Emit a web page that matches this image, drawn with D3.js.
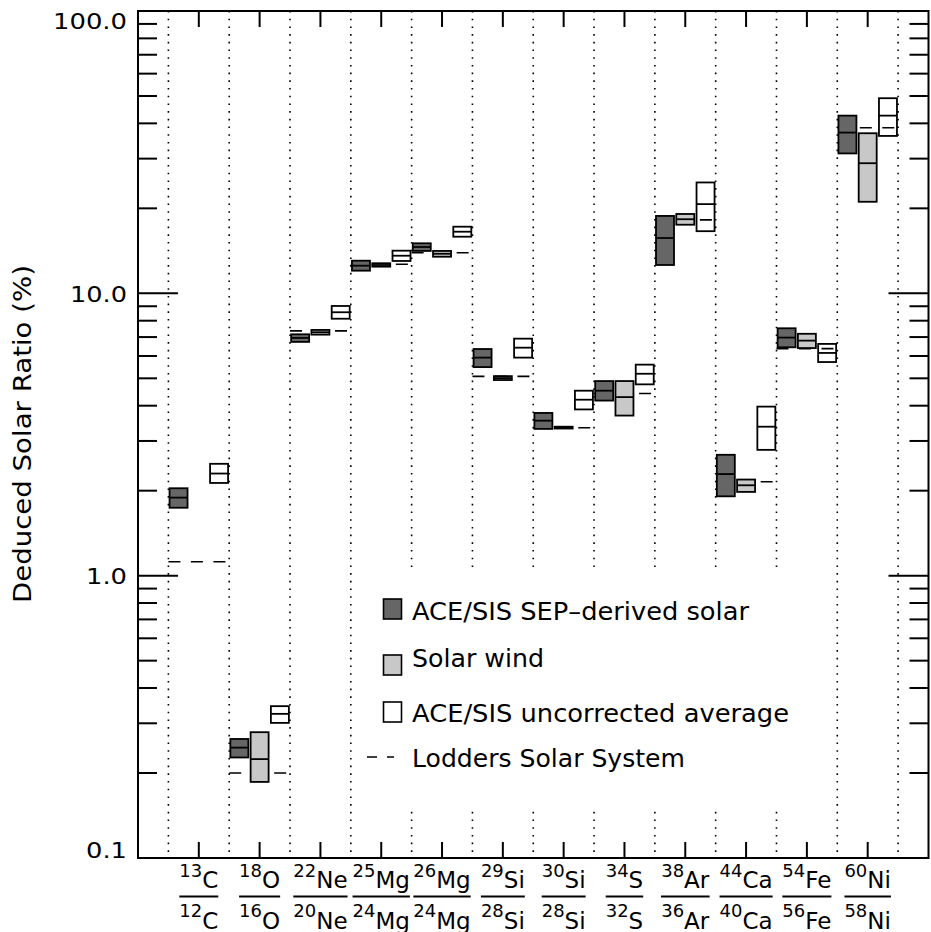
<!DOCTYPE html>
<html>
<head>
<meta charset="utf-8">
<script src="https://cdn.jsdelivr.net/npm/d3@7"></script>
<style>
body { margin: 0; background: #fff; }
svg { display: block; }
text { font-family: "DejaVu Sans", sans-serif; fill: #000; }
</style>
</head>
<body>
<svg id="svg_chart"></svg>
<script>
// isotope ratio labels (numerator / denominator)
var num_mass = ["13", "18", "22", "25", "26", "29", "30", "34", "38", "44", "54", "60"];
var num_el   = ["C",  "O",  "Ne", "Mg", "Mg", "Si", "Si", "S",  "Ar", "Ca", "Fe", "Ni"];
var den_mass = ["12", "16", "20", "24", "24", "28", "28", "32", "36", "40", "56", "58"];
var den_el   = ["C",  "O",  "Ne", "Mg", "Mg", "Si", "Si", "S",  "Ar", "Ca", "Fe", "Ni"];

// ACE/SIS SEP-derived solar (%)
var sep_low  = [1.74, 0.227, 6.73, 12.03, 14.13, 5.48, 3.31, 4.17, 12.6, 1.91, 6.44, 31.3];
var sep_mid  = [1.89, 0.246, 6.95, 12.53, 14.59, 5.92, 3.54, 4.52, 15.7, 2.29, 6.97, 37.1];
var sep_high = [2.04, 0.264, 7.16, 13.05, 15.04, 6.35, 3.77, 4.89, 18.8, 2.68, 7.52, 42.6];

// solar wind (%), none for carbon
var sw_low  = [null, 0.186, 7.14, 12.43, 13.48, 4.93, 3.32, 3.69, 17.5, 1.98, 6.40, 21.1];
var sw_mid  = [null, 0.224, 7.28, 12.60, 13.81, 5.01, 3.34, 4.29, 18.3, 2.09, 6.80, 28.9];
var sw_high = [null, 0.279, 7.42, 12.78, 14.13, 5.09, 3.37, 4.89, 19.1, 2.19, 7.19, 36.9];

// ACE/SIS uncorrected average (%)
var unc_low  = [2.13, 0.301, 8.13, 13.02, 15.87, 5.92, 3.88, 4.76, 16.6, 2.79, 5.71, 36.1];
var unc_mid  = [2.30, 0.324, 8.57, 13.59, 16.53, 6.42, 4.20, 5.19, 20.7, 3.37, 6.15, 42.6];
var unc_high = [2.49, 0.345, 9.02, 14.16, 17.22, 6.91, 4.52, 5.59, 24.7, 3.97, 6.62, 49.1];

// Lodders solar system (%)
var lodders = [1.12, 0.200, 7.36, 12.67, 13.93, 5.08, 3.34, 4.42, 18.2, 2.15, 6.37, 38.6];

var y_tick_major = [0.1, 1, 10, 100];
var y_tick_labels = ["0.1", "1.0", "10.0", "100.0"];

var width = 931, height = 932;
var plot = {left: 138, right: 928.5, top: 11, bottom: 858};

var svg = d3.select("svg#svg_chart")
    .attr("width", width)
    .attr("height", height);

var x = d3.scaleLinear().domain([0, 13]).range([plot.left, plot.right]);
var y = d3.scaleLog().domain([0.1, 100]).range([plot.bottom, plot.top]);
var unit = x(1) - x(0);

// minor ticks 2..9 of every decade
var y_tick_minor = [];
y_tick_major.slice(0, 3).forEach(function(d) {
	for (var k = 2; k <= 9; k++) y_tick_minor.push(d * k);
});

// the vector font in the original is wider than DejaVu: stretch to its width
function fn_fit(sel, w) {
	return sel.attr("textLength", w).attr("lengthAdjust", "spacingAndGlyphs");
}

// ====================================================
// dotted separators between the ratios
var bounds = d3.range(13).map(function(i) { return i + 0.5; });
svg.append("g")
    .selectAll("line")
    .data(bounds)
    .enter().append("line")
    .attr("x1", function(d) { return x(d); })
    .attr("x2", function(d) { return x(d); })
    .attr("y1", plot.top)
    .attr("y2", plot.bottom)
    .attr("stroke", "#000")
    .attr("stroke-width", 1.6)
    .attr("stroke-dasharray", "1.6,6.1");

// the legend blanks the separators behind it
svg.append("rect")
    .attr("x", 356).attr("y", 573)
    .attr("width", 474).attr("height", 235)
    .attr("fill", "#fff");

// ====================================================
// Lodders dashed lines, across the whole band
svg.append("g")
    .selectAll("line")
    .data(lodders)
    .enter().append("line")
    .attr("x1", function(d, i) { return x(i + 0.5); })
    .attr("x2", function(d, i) { return x(i + 1.5); })
    .attr("y1", function(d) { return y(d); })
    .attr("y2", function(d) { return y(d); })
    .attr("stroke", "#000")
    .attr("stroke-width", 1.6)
    .attr("stroke-dasharray", "12,10.5");

// ====================================================
// boxes: low-high range with a line at the central value
function fn_boxes(lo, mid, hi, offset, fill) {
	var idx = d3.range(lo.length).filter(function(i) { return lo[i] != null; });
	var bw = 0.296 * unit;
	var g = svg.append("g");
	g.selectAll("rect")
	    .data(idx)
	    .enter().append("rect")
	    .attr("x", function(i) { return x(i + 1 + offset) - bw / 2; })
	    .attr("width", bw)
	    .attr("y", function(i) { return y(hi[i]); })
	    .attr("height", function(i) { return y(lo[i]) - y(hi[i]); })
	    .attr("fill", fill)
	    .attr("stroke", "#000")
	    .attr("stroke-width", 1.8);
	g.selectAll("line")
	    .data(idx)
	    .enter().append("line")
	    .attr("x1", function(i) { return x(i + 1 + offset) - bw / 2; })
	    .attr("x2", function(i) { return x(i + 1 + offset) + bw / 2; })
	    .attr("y1", function(i) { return y(mid[i]); })
	    .attr("y2", function(i) { return y(mid[i]); })
	    .attr("stroke", "#000")
	    .attr("stroke-width", 1.8);
}

fn_boxes(sep_low, sep_mid, sep_high, -1 / 3, "#666666");
fn_boxes(sw_low, sw_mid, sw_high, 0, "#c8c8c8");
fn_boxes(unc_low, unc_mid, unc_high, 1 / 3, "none");

// ====================================================
// frame and ticks
svg.append("rect")
    .attr("x", plot.left).attr("y", plot.top)
    .attr("width", plot.right - plot.left)
    .attr("height", plot.bottom - plot.top)
    .attr("fill", "none")
    .attr("stroke", "#000")
    .attr("stroke-width", 2);

var ticks = svg.append("g").attr("stroke", "#000").attr("stroke-width", 2);

function fn_y_ticks(vals, len) {
	vals.forEach(function(v) {
		ticks.append("line")
		    .attr("x1", plot.left).attr("x2", plot.left + len)
		    .attr("y1", y(v)).attr("y2", y(v));
		ticks.append("line")
		    .attr("x1", plot.right).attr("x2", plot.right - len)
		    .attr("y1", y(v)).attr("y2", y(v));
	});
}
fn_y_ticks(y_tick_minor, 19);
fn_y_ticks(y_tick_major, 40);

d3.range(1, 13).forEach(function(i) {
	ticks.append("line")
	    .attr("x1", x(i)).attr("x2", x(i))
	    .attr("y1", plot.top).attr("y2", plot.top + 16);
	ticks.append("line")
	    .attr("x1", x(i)).attr("x2", x(i))
	    .attr("y1", plot.bottom).attr("y2", plot.bottom - 16);
});

// y tick labels, end labels pulled inside the frame like IDL does
var tick_w = [41, 41, 57, 74];
svg.append("g")
    .selectAll("text")
    .data(y_tick_major)
    .enter().append("text")
    .attr("x", 127)
    .attr("y", function(d) {
    	return Math.min(Math.max(y(d) + 8.5, plot.top + 18), plot.bottom);
    })
    .attr("text-anchor", "end")
    .attr("font-size", 22)
    .attr("textLength", function(d, i) { return tick_w[i]; })
    .attr("lengthAdjust", "spacingAndGlyphs")
    .text(function(d, i) { return y_tick_labels[i]; });

fn_fit(svg.append("text")
    .attr("transform", "translate(31,434) rotate(-90)")
    .attr("text-anchor", "middle")
    .attr("font-size", 24)
    .text("Deduced Solar Ratio (%)"), 338);

// ====================================================
// ratio labels under the axis
d3.range(12).forEach(function(i) {
	var cx = x(i + 1);
	var g = svg.append("g");
	var top_t = g.append("text").attr("x", cx).attr("y", 876.5).attr("text-anchor", "middle");
	top_t.append("tspan").attr("font-size", 18).text(num_mass[i]);
	top_t.append("tspan").attr("font-size", 23).attr("dy", 11.5).text(num_el[i]);
	var bot_t = g.append("text").attr("x", cx).attr("y", 917).attr("text-anchor", "middle");
	bot_t.append("tspan").attr("font-size", 18).text(den_mass[i]);
	bot_t.append("tspan").attr("font-size", 23).attr("dy", 11.5).text(den_el[i]);
	var w = Math.max(top_t.node().getBBox().width, bot_t.node().getBBox().width);
	g.append("line")
	    .attr("x1", cx - w / 2).attr("x2", cx + w / 2)
	    .attr("y1", 896.5).attr("y2", 896.5)
	    .attr("stroke", "#000")
	    .attr("stroke-width", 2);
});

// ====================================================
// legend
var legend = svg.append("g");
var leg_items = [
	{label: "ACE/SIS SEP\u2013derived solar", fill: "#666666", y0: 599, base: 620, w: 337},
	{label: "Solar wind", fill: "#c8c8c8", y0: 655, base: 667, w: 132},
	{label: "ACE/SIS uncorrected average", fill: "#fff", y0: 702, base: 722, w: 377}
];
leg_items.forEach(function(d) {
	legend.append("rect")
	    .attr("x", 383.5).attr("y", d.y0)
	    .attr("width", 18).attr("height", 20)
	    .attr("fill", d.fill)
	    .attr("stroke", "#000")
	    .attr("stroke-width", 1.6);
	fn_fit(legend.append("text")
	    .attr("x", 412).attr("y", d.base)
	    .attr("font-size", 24)
	    .text(d.label), d.w);
});
legend.append("line")
    .attr("x1", 367).attr("x2", 394)
    .attr("y1", 757).attr("y2", 757)
    .attr("stroke", "#000")
    .attr("stroke-width", 1.6)
    .attr("stroke-dasharray", "10,10");
fn_fit(legend.append("text")
    .attr("x", 412).attr("y", 766.5)
    .attr("font-size", 24)
    .text("Lodders Solar System"), 273);
</script>
</body>
</html>
